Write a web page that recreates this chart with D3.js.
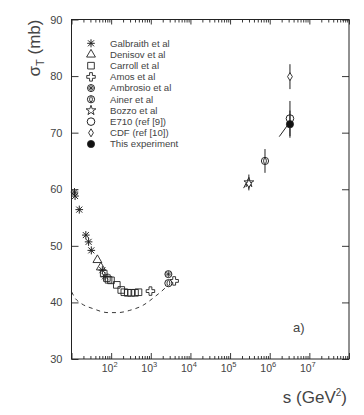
<!DOCTYPE html>
<html>
<head>
<meta charset="utf-8">
<script src="https://cdn.jsdelivr.net/npm/d3@7"></script>
<style>
  body { margin: 0; background: #fff; }
  text { font-family: "Liberation Sans", Arial, sans-serif; fill: #444; }
</style>
</head>
<body>
<div id="chart"></div>
<script>
// sigma_total vs s
// each point: [s (GeV^2), sigma (mb), error]
var galbraith = [[11.9,59.5],[12.3,58.8],[15.7,56.4],[23,51.9],[27,50.7],[31.6,49.2],[60,45.7],[70,44.6]];
var denisov = [[45,47.5],[55,46.2]];
var carroll = [[65,45.1],[78,44.3],[86,44.0],[99,43.9],[139,43.1],[180,42.2],[215,41.8],[262,41.7],[320,41.7],[400,41.7],[490,41.8]];
var amos = [[980,42.0],[3890,43.8]];
var ambrosio = [[2780,45.0]];
var ainer = [[2780,43.4],[7.6e5,65.0,2.1]];
var bozzo = [[2.98e5,61.2,1.4]];
var e710 = [[3.24e6,72.5,3.1]];
var cdf = [[2.98e5,61.0,0.9],[3.24e6,79.9,2.2]];
var thisExp = [[3.24e6,71.5,2.4]];

// short slanted strokes near the collider points: [s1, sigma1, s2, sigma2]
var slants = [[2.2e5,60.2,2.95e5,62.0],[1.74e6,69.3,2.95e6,71.5]];

// dashed curve
var curveS = [10,12.5,17.7,34.9,83.6,149,295,640,1260,2260,2900];
var curveSigma = [41.9,40.7,39.8,38.9,38.2,38.2,38.6,39.5,41.0,42.5,43.3];

var yTicks = [30,40,50,60,70,80,90];
var xDecades = [1e1,1e2,1e3,1e4,1e5,1e6,1e7,1e8];
var xLabelExp = [2,3,4,5,6,7];

var legendNames = ["Galbraith et al","Denisov et al","Carroll et al","Amos et al","Ambrosio et al",
                   "Ainer et al","Bozzo et al","E710 (ref [9])","CDF (ref [10])","This experiment"];

var ink = "#222";

var svg = d3.select("#chart").append("svg")
    .attr("width",364)
    .attr("height",415);

var x = d3.scaleLog().domain([10,1e8]).range([71.5,349]);
var y = d3.scaleLinear().domain([30,90]).range([359,19.5]);

// minor ticks 2..9 inside each decade
var minor = [];
xDecades.slice(0,-1).forEach(function(d){
    for(var k=2;k<=9;k++){ minor.push(d*k); }
});

function cleanAxis(g){
    g.select(".domain").remove();
    g.selectAll("line").attr("stroke",ink).attr("stroke-width",0.9);
}

// bottom axis
svg.append("g").attr("transform","translate(0,359)")
    .call(d3.axisBottom(x).tickValues(minor).tickSize(-3).tickFormat(""))
    .call(cleanAxis);
var xb = svg.append("g").attr("transform","translate(0,359)")
    .call(d3.axisBottom(x).tickValues(xDecades).tickSize(-6).tickPadding(6)
        .tickFormat(function(d){ var e = Math.round(Math.log10(d)); return xLabelExp.indexOf(e) >= 0 ? "10" : ""; }))
    .call(cleanAxis);
xb.selectAll(".tick text")
    .attr("font-size",10.5)
    .attr("font-family","Liberation Sans, Arial, sans-serif")
    .attr("fill","#555")
    .attr("dx","-2")
    .each(function(d){
        var e = Math.round(Math.log10(d));
        if(xLabelExp.indexOf(e) >= 0){
            d3.select(this).append("tspan").attr("dy","-5").attr("font-size",7.5).text(e);
        }
    });

// top axis
svg.append("g").attr("transform","translate(0,19.5)")
    .call(d3.axisTop(x).tickValues(minor).tickSize(-3).tickFormat(""))
    .call(cleanAxis);
svg.append("g").attr("transform","translate(0,19.5)")
    .call(d3.axisTop(x).tickValues(xDecades).tickSize(-5).tickFormat(""))
    .call(cleanAxis);

// left axis
var yl = svg.append("g").attr("transform","translate(71.5,0)")
    .call(d3.axisLeft(y).tickValues(yTicks).tickSize(-7).tickPadding(9))
    .call(cleanAxis);
yl.selectAll(".tick text")
    .attr("font-size",11)
    .attr("font-family","Liberation Sans, Arial, sans-serif")
    .attr("fill","#555");

// right axis
svg.append("g").attr("transform","translate(349,0)")
    .call(d3.axisRight(y).tickValues(yTicks).tickSize(-7).tickFormat(""))
    .call(cleanAxis);

// frame
svg.append("rect")
    .attr("x",71.5).attr("y",19.5)
    .attr("width",349-71.5).attr("height",359-19.5)
    .attr("fill","none").attr("stroke",ink).attr("stroke-width",1);

// axis titles
var yt = svg.append("text")
    .attr("transform","translate(40,48) rotate(-90)")
    .attr("text-anchor","middle")
    .attr("font-size",17)
    .attr("fill","#555");
yt.append("tspan").text("\u03c3");
yt.append("tspan").attr("dy",4).attr("font-size",11).text("T");
yt.append("tspan").attr("dy",-4).text(" (mb)");

var xt = svg.append("text")
    .attr("x",347).attr("y",403)
    .attr("text-anchor","end")
    .attr("font-size",17)
    .attr("fill","#555");
xt.append("tspan").text("s (GeV");
xt.append("tspan").attr("dy",-7).attr("font-size",10).text("2");
xt.append("tspan").attr("dy",7).text(")");

svg.append("text")
    .attr("x",293).attr("y",332)
    .attr("font-family","Liberation Serif, Times New Roman, serif")
    .attr("font-size",13)
    .attr("fill","#222")
    .text("a)");

// dashed curve
var line = d3.line()
    .x(function(d,i){ return x(curveS[i]); })
    .y(function(d){ return y(d); })
    .curve(d3.curveMonotoneX);
svg.append("path")
    .datum(curveSigma)
    .attr("d",line)
    .attr("fill","none")
    .attr("stroke",ink)
    .attr("stroke-width",0.9)
    .attr("stroke-dasharray","4,4");

// slanted strokes
svg.selectAll(".slant")
    .data(slants)
    .enter()
    .append("line")
    .attr("x1",function(d){ return x(d[0]); })
    .attr("y1",function(d){ return y(d[1]); })
    .attr("x2",function(d){ return x(d[2]); })
    .attr("y2",function(d){ return y(d[3]); })
    .attr("stroke",ink)
    .attr("stroke-width",1);

// marker drawers, each draws centred on 0,0
var markers = {
    galbraith: function(g){
        [[-3.8,0,3.8,0],[0,-4,0,4],[-3,-3,3,3],[-3,3,3,-3]].forEach(function(l){
            g.append("line").attr("x1",l[0]).attr("y1",l[1]).attr("x2",l[2]).attr("y2",l[3])
                .attr("stroke",ink).attr("stroke-width",1);
        });
    },
    denisov: function(g){
        g.append("path").attr("d",d3.symbol(d3.symbolTriangle,34)())
            .attr("fill","none").attr("stroke",ink).attr("stroke-width",0.9);
    },
    carroll: function(g){
        g.append("path").attr("d",d3.symbol(d3.symbolSquare,44)())
            .attr("fill","none").attr("stroke",ink).attr("stroke-width",0.9);
    },
    amos: function(g){
        g.append("path").attr("d",d3.symbol(d3.symbolCross,40)())
            .attr("fill","none").attr("stroke",ink).attr("stroke-width",0.9);
    },
    ambrosio: function(g){
        g.append("circle").attr("r",3.5).attr("fill","#fff").attr("stroke",ink).attr("stroke-width",1);
        [[-3,0,3,0],[0,-3,0,3],[-2.2,-2.2,2.2,2.2],[-2.2,2.2,2.2,-2.2]].forEach(function(l){
            g.append("line").attr("x1",l[0]).attr("y1",l[1]).attr("x2",l[2]).attr("y2",l[3])
                .attr("stroke",ink).attr("stroke-width",0.8);
        });
    },
    ainer: function(g){
        g.append("circle").attr("r",3.6).attr("fill","#fff").attr("stroke",ink).attr("stroke-width",1);
        g.append("ellipse").attr("rx",1.4).attr("ry",2.6).attr("fill","none").attr("stroke",ink).attr("stroke-width",0.9);
    },
    bozzo: function(g){
        g.append("path").attr("d",d3.symbol(d3.symbolStar,30)())
            .attr("fill","#fff").attr("stroke",ink).attr("stroke-width",0.9);
    },
    e710: function(g){
        g.append("circle").attr("r",3.8).attr("fill","none").attr("stroke",ink).attr("stroke-width",1);
    },
    cdf: function(g){
        g.append("path").attr("d","M0,-4L2.4,0L0,4L-2.4,0Z")
            .attr("fill","#fff").attr("stroke",ink).attr("stroke-width",0.9);
    },
    thisExp: function(g){
        g.append("circle").attr("r",3.6).attr("fill","#111").attr("stroke",ink).attr("stroke-width",0.8);
    }
};

var series = [
    {key:"galbraith", data:galbraith},
    {key:"denisov", data:denisov},
    {key:"carroll", data:carroll},
    {key:"amos", data:amos},
    {key:"ambrosio", data:ambrosio},
    {key:"ainer", data:ainer},
    {key:"bozzo", data:bozzo},
    {key:"e710", data:e710},
    {key:"cdf", data:cdf},
    {key:"thisExp", data:thisExp}
];

// error bars first
series.forEach(function(s){
    svg.selectAll(".err-"+s.key)
        .data(s.data.filter(function(d){ return d[2]; }))
        .enter()
        .append("line")
        .attr("x1",function(d){ return x(d[0]); })
        .attr("x2",function(d){ return x(d[0]); })
        .attr("y1",function(d){ return y(d[1]-d[2]); })
        .attr("y2",function(d){ return y(d[1]+d[2]); })
        .attr("stroke",ink)
        .attr("stroke-width",1);
});

series.forEach(function(s){
    svg.selectAll(".pt-"+s.key)
        .data(s.data)
        .enter()
        .append("g")
        .attr("transform",function(d){ return "translate("+x(d[0])+","+y(d[1])+")"; })
        .each(function(){ markers[s.key](d3.select(this)); });
});

// legend
var legend = svg.selectAll(".legend")
    .data(series)
    .enter()
    .append("g")
    .attr("transform",function(d,i){ return "translate(91,"+(43.3+i*11.19)+")"; });
legend.each(function(d){ markers[d.key](d3.select(this)); });
legend.append("text")
    .attr("x",19)
    .attr("dy","0.35em")
    .attr("font-size",9.6)
    .attr("fill","#444")
    .text(function(d,i){ return legendNames[i]; });
</script>
</body>
</html>
